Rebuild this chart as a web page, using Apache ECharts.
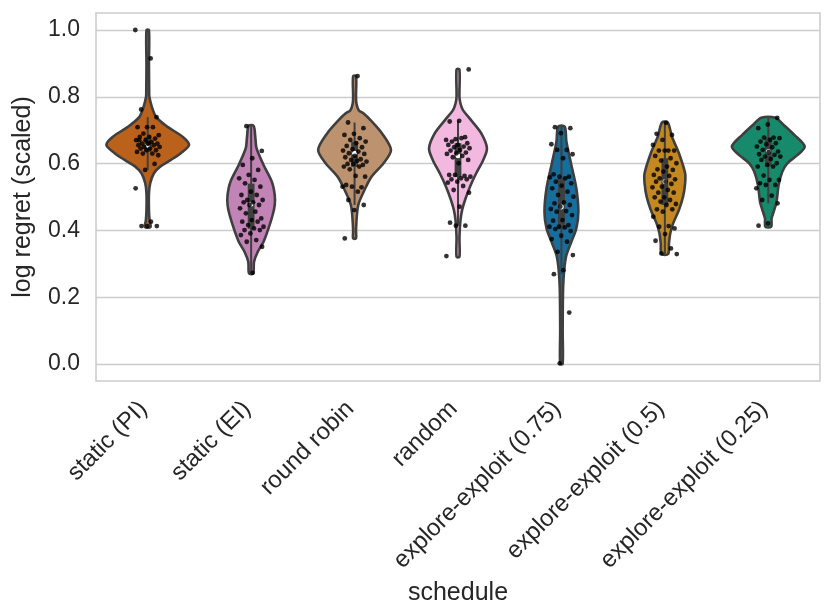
<!DOCTYPE html>
<html>
<head>
<meta charset="utf-8">
<script src="https://cdn.jsdelivr.net/npm/echarts@6/dist/echarts.min.js"></script>
<style>
html, body { margin: 0; padding: 0; background: #ffffff; }
#main { width: 831px; height: 616px; }
</style>
</head>
<body>
<div id="main"></div>
<script>
// ===== data =====
var schedules = ['static (PI)', 'static (EI)', 'round robin', 'random',
	'explore-exploit (0.75)', 'explore-exploit (0.5)', 'explore-exploit (0.25)'];

var yTicks = [0, 0.2, 0.4, 0.6, 0.8, 1.0];

// violin outlines: levels and density (1 = widest violin)
var violinY = [
	[1.0, 0.9, 0.82, 0.80, 0.77, 0.74, 0.71, 0.68, 0.656, 0.631, 0.611, 0.591, 0.571, 0.541, 0.51, 0.46, 0.43, 0.41],
	[0.713, 0.68, 0.646, 0.596, 0.546, 0.506, 0.476, 0.446, 0.406, 0.366, 0.336, 0.306, 0.271],
	[0.862, 0.80, 0.78, 0.76, 0.75, 0.731, 0.691, 0.641, 0.601, 0.561, 0.521, 0.481, 0.451, 0.40, 0.376],
	[0.882, 0.80, 0.78, 0.76, 0.731, 0.691, 0.646, 0.611, 0.571, 0.531, 0.491, 0.461, 0.431, 0.38, 0.321],
	[0.711, 0.666, 0.596, 0.526, 0.456, 0.406, 0.366, 0.326, 0.286, 0.227, 0.1, 0.0],
	[0.723, 0.681, 0.631, 0.571, 0.541, 0.501, 0.461, 0.421, 0.391, 0.361, 0.329],
	[0.737, 0.716, 0.686, 0.651, 0.626, 0.601, 0.576, 0.536, 0.486, 0.456, 0.436, 0.411]
];
var violinD = [
	[0.03, 0.03, 0.035, 0.04, 0.1, 0.2, 0.48, 0.85, 1.0, 0.8, 0.56, 0.3, 0.15, 0.06, 0.03, 0.03, 0.045, 0.07],
	[0.06, 0.1, 0.13, 0.3, 0.5, 0.57, 0.57, 0.52, 0.42, 0.3, 0.16, 0.07, 0.05],
	[0.035, 0.035, 0.045, 0.1, 0.22, 0.38, 0.66, 0.88, 0.7, 0.41, 0.24, 0.1, 0.06, 0.035, 0.035],
	[0.035, 0.035, 0.06, 0.12, 0.31, 0.56, 0.7, 0.61, 0.44, 0.29, 0.17, 0.1, 0.06, 0.035, 0.035],
	[0.08, 0.12, 0.24, 0.36, 0.41, 0.36, 0.24, 0.12, 0.07, 0.04, 0.03, 0.03],
	[0.07, 0.17, 0.34, 0.49, 0.49, 0.44, 0.34, 0.2, 0.13, 0.1, 0.08],
	[0.17, 0.37, 0.63, 0.88, 0.71, 0.46, 0.34, 0.25, 0.2, 0.13, 0.08, 0.07]
];

// inner box
var whiskerLow = [0.581, 0.273, 0.476, 0.414, 0.269, 0.329, 0.481];
var quart1 = [0.635, 0.405, 0.59, 0.56, 0.406, 0.476, 0.593];
var medians = [0.655, 0.478, 0.631, 0.623, 0.47, 0.546, 0.636];
var quart3 = [0.68, 0.54, 0.666, 0.661, 0.556, 0.616, 0.678];
var whiskerHigh = [0.739, 0.712, 0.723, 0.728, 0.711, 0.722, 0.737];

// individual runs
var runs = [
	[1.0, 0.915, 0.762, 0.739, 0.709, 0.709, 0.709, 0.69, 0.685, 0.68, 0.68, 0.675, 0.67, 0.67, 0.665, 0.66, 0.66, 0.66, 0.655, 0.655,
		0.65, 0.65, 0.645, 0.645, 0.64, 0.64, 0.635, 0.63, 0.63, 0.625, 0.66, 0.67, 0.599, 0.581, 0.526, 0.426, 0.413, 0.413, 0.413],
	[0.712, 0.638, 0.616, 0.596, 0.581, 0.566, 0.556, 0.551, 0.541, 0.531, 0.516, 0.506, 0.506, 0.491, 0.491, 0.484, 0.484, 0.476,
		0.476, 0.466, 0.456, 0.451, 0.436, 0.431, 0.426, 0.426, 0.416, 0.411, 0.406, 0.401, 0.401, 0.391, 0.386, 0.371, 0.366, 0.351, 0.273],
	[0.862, 0.723, 0.706, 0.689, 0.686, 0.676, 0.671, 0.666, 0.661, 0.653, 0.649, 0.643, 0.639, 0.636, 0.631, 0.629, 0.623, 0.619,
		0.613, 0.611, 0.606, 0.608, 0.599, 0.596, 0.599, 0.591, 0.591, 0.583, 0.561, 0.563, 0.536, 0.529, 0.531, 0.531, 0.516, 0.491,
		0.476, 0.461, 0.376],
	[0.882, 0.728, 0.726, 0.679, 0.673, 0.671, 0.676, 0.666, 0.661, 0.656, 0.656, 0.651, 0.649, 0.646, 0.641, 0.639, 0.633, 0.631,
		0.629, 0.623, 0.619, 0.611, 0.601, 0.566, 0.563, 0.566, 0.561, 0.556, 0.553, 0.553, 0.546, 0.543, 0.533, 0.521, 0.513, 0.471,
		0.423, 0.414, 0.414, 0.323],
	[0.709, 0.706, 0.691, 0.658, 0.641, 0.641, 0.628, 0.616, 0.568, 0.561, 0.561, 0.559, 0.556, 0.546, 0.541, 0.534, 0.526, 0.516,
		0.506, 0.501, 0.484, 0.481, 0.476, 0.471, 0.464, 0.458, 0.456, 0.446, 0.431, 0.429, 0.416, 0.411, 0.411, 0.409, 0.404, 0.398,
		0.384, 0.374, 0.366, 0.336, 0.326, 0.281, 0.269, 0.154, 0.002],
	[0.722, 0.689, 0.686, 0.671, 0.656, 0.639, 0.639, 0.639, 0.639, 0.623, 0.616, 0.609, 0.601, 0.591, 0.583, 0.581, 0.576, 0.566,
		0.563, 0.556, 0.553, 0.546, 0.546, 0.539, 0.531, 0.529, 0.521, 0.513, 0.513, 0.499, 0.499, 0.491, 0.486, 0.479, 0.476, 0.463,
		0.463, 0.456, 0.441, 0.413, 0.411, 0.406, 0.389, 0.369, 0.346, 0.331, 0.329],
	[0.737, 0.717, 0.706, 0.678, 0.678, 0.676, 0.671, 0.666, 0.661, 0.658, 0.651, 0.649, 0.641, 0.636, 0.634, 0.628, 0.626, 0.621,
		0.621, 0.614, 0.611, 0.601, 0.596, 0.591, 0.591, 0.564, 0.551, 0.551, 0.541, 0.536, 0.536, 0.526, 0.504, 0.491, 0.481, 0.421, 0.414]
];

// ===== style =====
var fills = ['#ba611b', '#c283b6', '#bd926e', '#f2b8e0', '#176d9c', '#c38820', '#168a6a'];
var edge = '#3f3f3f';
var textColor = '#262626';
var fontName = 'Liberation Sans, Arial, sans-serif';
var halfWidth = 0.4; // widest violin, in category units

var chart = echarts.init(document.getElementById('main'));

// violin + inner box
function renderViolin(params, api) {
	var k = Math.round(api.value(0));
	var unit = api.size([1, 0])[0];
	var cx = api.coord([k, 0])[0];
	var ys = violinY[k], ds = violinD[k];
	var right = [], left = [];
	for (var i = 0; i < ys.length; i++) {
		var py = api.coord([k, ys[i]])[1];
		var w = ds[i] * halfWidth * unit;
		right.push([cx + w, py]);
		left.unshift([cx - w, py]);
	}
	var yLo = api.coord([k, whiskerLow[k]])[1];
	var yHi = api.coord([k, whiskerHigh[k]])[1];
	var yQ1 = api.coord([k, quart1[k]])[1];
	var yQ3 = api.coord([k, quart3[k]])[1];
	var yMed = api.coord([k, medians[k]])[1];
	return {
		type: 'group',
		children: [{
			type: 'polygon',
			shape: { points: right.concat(left), smooth: 0.3 },
			style: { fill: fills[k], stroke: edge, lineWidth: 2.6, lineJoin: 'round' }
		}, {
			type: 'line',
			shape: { x1: cx, y1: yLo, x2: cx, y2: yHi },
			style: { stroke: edge, lineWidth: 2 }
		}, {
			type: 'rect',
			shape: { x: cx - 3.4, y: yQ3, width: 6.8, height: yQ1 - yQ3 },
			style: { fill: edge }
		}, {
			type: 'circle',
			shape: { cx: cx, cy: yMed, r: 2.4 },
			style: { fill: '#ffffff' }
		}]
	};
}

// strip points, spread sideways by index
var stripData = [];
for (var k = 0; k < runs.length; k++) {
	for (var i = 0; i < runs[k].length; i++) {
		var spread = ((i * 0.618034 + 0.31 * k) % 1 - 0.5) * 0.24;
		stripData.push([k + spread, runs[k][i]]);
	}
}

var violinItems = [];
for (var j = 0; j < schedules.length; j++) {
	violinItems.push([j, medians[j]]);
}

var option = {
	animation: false,
	backgroundColor: '#ffffff',
	textStyle: { fontFamily: fontName },
	grid: [{
		// frame
		left: 96, right: 11, top: 13, bottom: 235,
		show: true, borderColor: '#cccccc', borderWidth: 1.6
	}, {
		// data area: 0..1
		left: 96, right: 11, top: 30, bottom: 252
	}],
	xAxis: [{
		gridIndex: 0,
		type: 'category',
		data: schedules,
		axisLine: { show: false },
		axisTick: { show: false },
		splitLine: { show: false },
		axisLabel: { rotate: 45, margin: 20, padding: [0, 6, 0, 0], fontSize: 24, color: textColor, fontFamily: fontName },
		name: 'schedule',
		nameLocation: 'middle',
		nameGap: 196,
		nameTextStyle: { fontSize: 25, color: textColor, fontFamily: fontName }
	}, {
		gridIndex: 1,
		type: 'value',
		min: -0.5,
		max: 6.5,
		show: false
	}],
	yAxis: [{
		gridIndex: 0,
		type: 'value',
		show: false
	}, {
		gridIndex: 1,
		type: 'value',
		min: yTicks[0],
		max: yTicks[yTicks.length - 1],
		interval: 0.2,
		axisLine: { show: false },
		axisTick: { show: false },
		splitLine: { lineStyle: { color: '#cccccc', width: 1.4 } },
		axisLabel: {
			margin: 16, fontSize: 23, color: textColor, fontFamily: fontName,
			formatter: function(v) { return v.toFixed(1); }
		},
		name: 'log regret (scaled)',
		nameLocation: 'middle',
		nameGap: 60,
		nameTextStyle: { fontSize: 25, color: textColor, fontFamily: fontName }
	}],
	series: [{
		type: 'custom',
		xAxisIndex: 1,
		yAxisIndex: 1,
		renderItem: renderViolin,
		data: violinItems,
		clip: false,
		z: 2
	}, {
		type: 'scatter',
		xAxisIndex: 1,
		yAxisIndex: 1,
		data: stripData,
		symbolSize: 4.8,
		itemStyle: { color: '#000000' },
		clip: false,
		z: 3
	}]
};

chart.setOption(option);
</script>
</body>
</html>
